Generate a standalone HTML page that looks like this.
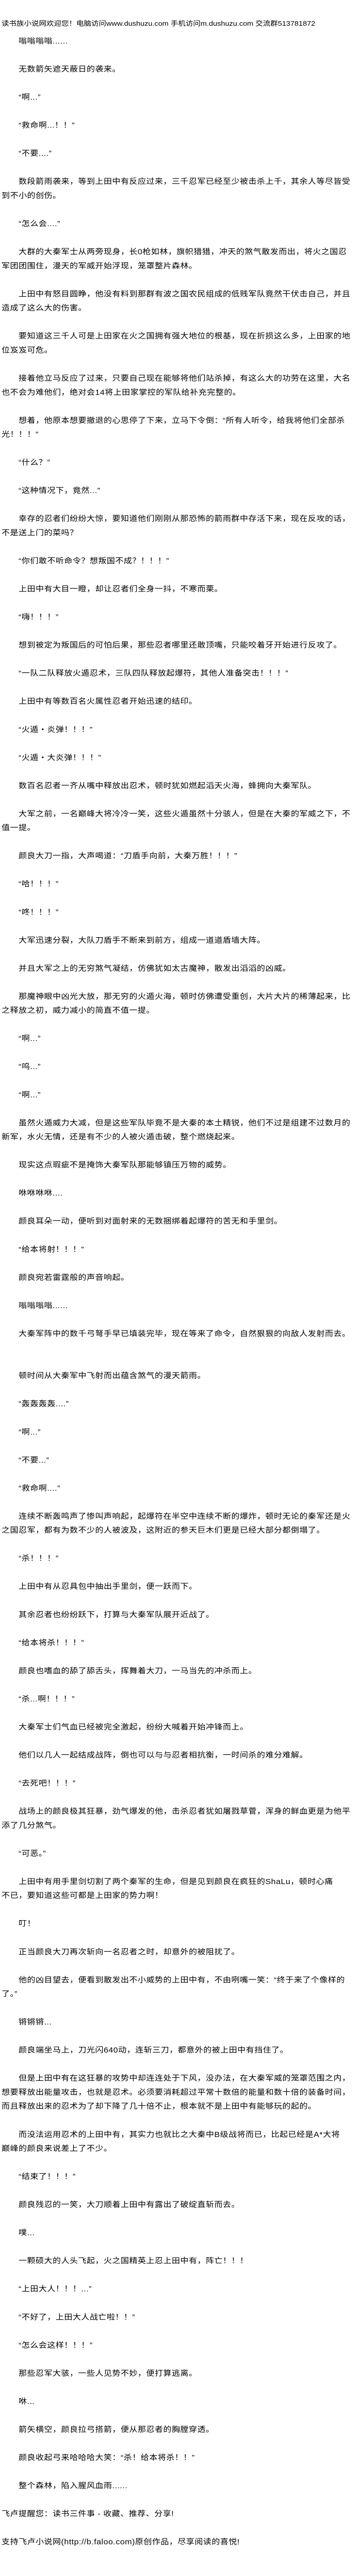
<!DOCTYPE html>
<html><head><meta charset="utf-8">
<style>
html{margin:0;padding:0;width:700px;height:5470px;overflow:hidden;background:#fff;}
body{margin:0;padding:0;width:700px;height:5470px;position:relative;overflow:hidden;color:#000;background:#fff;
font-family:"Liberation Sans","Noto Sans CJK SC",sans-serif;}
#w{position:absolute;left:0;top:0;width:700px;height:5470px;transform:scaleY(0.909);transform-origin:0 0;}
#w div{position:absolute;height:30px;line-height:30px;white-space:nowrap;overflow:hidden;font-size:16px;letter-spacing:0.5px;left:3px;max-width:697px;}
#w div.i{left:36px;max-width:664px;}
#hdr{top:36px;font-size:14.5px !important;letter-spacing:0 !important;}
</style></head><body><div id="w">
<div id="hdr">读书族小说网欢迎您！电脑访问www.dushuzu.com 手机访问m.dushuzu.com 交流群513781872</div>
<div class="i" style="top:74px">嗡嗡嗡嗡......</div>
<div class="i" style="top:134px">无数箭矢遮天蔽日的袭来。</div>
<div class="i" style="top:194px">“啊...”</div>
<div class="i" style="top:254px">“救命啊...！！”</div>
<div class="i" style="top:314px">“不要....”</div>
<div class="i" style="top:374px">数段箭雨袭来，等到上田中有反应过来，三千忍军已经至少被击杀上千，其余人等尽皆受</div>
<div style="top:404px">到不小的创伤。</div>
<div class="i" style="top:464px">“怎么会....”</div>
<div class="i" style="top:524px">大群的大秦军士从两旁现身，长0枪如林，旗帜猎猎，冲天的煞气散发而出，将火之国忍</div>
<div style="top:554px">军团团围住，漫天的军威开始浮现，笼罩整片森林。</div>
<div class="i" style="top:614px">上田中有怒目圆睁，他没有料到那群有波之国农民组成的低贱军队竟然干伏击自己，并且</div>
<div style="top:644px">造成了这么大的伤害。</div>
<div class="i" style="top:704px">要知道这三千人可是上田家在火之国拥有强大地位的根基，现在折损这么多，上田家的地</div>
<div style="top:734px">位岌岌可危。</div>
<div class="i" style="top:794px">接着他立马反应了过来，只要自己现在能够将他们站杀掉，有这么大的功劳在这里，大名</div>
<div style="top:824px">也不会为难他们，绝对会14将上田家掌控的军队给补充完整的。</div>
<div class="i" style="top:884px">想着，他原本想要撤退的心思停了下来，立马下令倒：“所有人听令，给我将他们全部杀</div>
<div style="top:914px">光！！！”</div>
<div class="i" style="top:974px">“什么？”</div>
<div class="i" style="top:1034px">“这种情况下，竟然...”</div>
<div class="i" style="top:1094px">幸存的忍者们纷纷大惊，要知道他们刚刚从那恐怖的箭雨群中存活下来，现在反攻的话，</div>
<div style="top:1124px">不是送上门的菜吗？</div>
<div class="i" style="top:1184px">“你们敢不听命令？想叛国不成？！！！”</div>
<div class="i" style="top:1244px">上田中有大目一瞪，却让忍者们全身一抖，不寒而栗。</div>
<div class="i" style="top:1304px">“嗨！！！”</div>
<div class="i" style="top:1364px">想到被定为叛国后的可怕后果，那些忍者哪里还敢顶嘴，只能咬着牙开始进行反攻了。</div>
<div class="i" style="top:1424px">“一队二队释放火遁忍术，三队四队释放起爆符，其他人准备突击！！！”</div>
<div class="i" style="top:1484px">上田中有等数百名火属性忍者开始迅速的结印。</div>
<div class="i" style="top:1544px">“火遁・炎弹！！！”</div>
<div class="i" style="top:1604px">“火遁・大炎弹！！！”</div>
<div class="i" style="top:1664px">数百名忍者一齐从嘴中释放出忍术，顿时犹如燃起滔天火海，蜂拥向大秦军队。</div>
<div class="i" style="top:1724px">大军之前，一名巅峰大将冷冷一笑，这些火遁虽然十分骇人，但是在大秦的军威之下，不</div>
<div style="top:1754px">值一提。</div>
<div class="i" style="top:1814px">颜良大刀一指，大声喝道：“刀盾手向前，大秦万胜！！！”</div>
<div class="i" style="top:1874px">“哈！！！”</div>
<div class="i" style="top:1934px">“咚！！！”</div>
<div class="i" style="top:1994px">大军迅速分裂，大队刀盾手不断来到前方，组成一道道盾墙大阵。</div>
<div class="i" style="top:2054px">并且大军之上的无穷煞气凝结，仿佛犹如太古魔神，散发出滔滔的凶威。</div>
<div class="i" style="top:2114px">那魔神眼中凶光大放，那无穷的火遁火海，顿时仿佛遭受重创，大片大片的稀薄起来，比</div>
<div style="top:2144px">之释放之初，威力减小的简直不值一提。</div>
<div class="i" style="top:2204px">“啊...”</div>
<div class="i" style="top:2264px">“呜...”</div>
<div class="i" style="top:2324px">“啊...”</div>
<div class="i" style="top:2384px">虽然火遁威力大减，但是这些军队毕竟不是大秦的本土精锐，他们不过是组建不过数月的</div>
<div style="top:2414px">新军，水火无情，还是有不少的人被火遁击破，整个燃烧起来。</div>
<div class="i" style="top:2474px">现实这点瑕疵不是掩饰大秦军队那能够镇压万物的威势。</div>
<div class="i" style="top:2534px">咻咻咻咻....</div>
<div class="i" style="top:2594px">颜良耳朵一动，便听到对面射来的无数捆绑着起爆符的苦无和手里剑。</div>
<div class="i" style="top:2654px">“给本将射！！！”</div>
<div class="i" style="top:2714px">颜良宛若雷霆般的声音响起。</div>
<div class="i" style="top:2774px">嗡嗡嗡嗡......</div>
<div class="i" style="top:2834px">大秦军阵中的数千弓弩手早已填装完毕，现在等来了命令，自然狠狠的向敌人发射而去。</div>
<div class="i" style="top:2924px">顿时间从大秦军中飞射而出蕴含煞气的漫天箭雨。</div>
<div class="i" style="top:2984px">“轰轰轰轰....”</div>
<div class="i" style="top:3044px">“啊...”</div>
<div class="i" style="top:3104px">“不要...”</div>
<div class="i" style="top:3164px">“救命啊....”</div>
<div class="i" style="top:3224px">连续不断轰鸣声了惨叫声响起，起爆符在半空中连续不断的爆炸，顿时无论的秦军还是火</div>
<div style="top:3254px">之国忍军，都有为数不少的人被波及，这附近的参天巨木们更是已经大部分都倒塌了。</div>
<div class="i" style="top:3314px">“杀！！！”</div>
<div class="i" style="top:3374px">上田中有从忍具包中抽出手里剑，便一跃而下。</div>
<div class="i" style="top:3434px">其余忍者也纷纷跃下，打算与大秦军队展开近战了。</div>
<div class="i" style="top:3494px">“给本将杀！！！”</div>
<div class="i" style="top:3554px">颜良也嗜血的舔了舔舌头，挥舞着大刀，一马当先的冲杀而上。</div>
<div class="i" style="top:3614px">“杀...啊！！！”</div>
<div class="i" style="top:3674px">大秦军士们气血已经被完全激起，纷纷大喊着开始冲锋而上。</div>
<div class="i" style="top:3734px">他们以几人一起结成战阵，倒也可以与与忍者相抗衡，一时间杀的难分难解。</div>
<div class="i" style="top:3794px">“去死吧！！！”</div>
<div class="i" style="top:3854px">战场上的颜良极其狂暴，劲气爆发的他，击杀忍者犹如屠戮草菅，浑身的鲜血更是为他平</div>
<div style="top:3884px">添了几分煞气。</div>
<div class="i" style="top:3944px">“可恶。”</div>
<div class="i" style="top:4004px">上田中有用手里剑切割了两个秦军的生命，但是见到颜良在疯狂的ShaLu，顿时心痛</div>
<div style="top:4034px">不已，要知道这些可都是上田家的势力啊！</div>
<div class="i" style="top:4094px">叮！</div>
<div class="i" style="top:4154px">正当颜良大刀再次斩向一名忍者之时，却意外的被阻扰了。</div>
<div class="i" style="top:4214px">他的凶目望去，便看到散发出不小威势的上田中有，不由咧嘴一笑：“终于来了个像样的</div>
<div style="top:4244px">了。”</div>
<div class="i" style="top:4304px">锵锵锵...</div>
<div class="i" style="top:4364px">颜良端坐马上，刀光闪640动，连斩三刀，都意外的被上田中有挡住了。</div>
<div class="i" style="top:4424px">但是上田中有在这狂暴的攻势中却连连处于下风，没办法，在大秦军威的笼罩范围之内，</div>
<div style="top:4454px">想要释放出能量攻击，也就是忍术。必须要消耗超过平常十数倍的能量和数十倍的装备时间，</div>
<div style="top:4484px">而且释放出来的忍术为了却下降了几十倍不止，根本就不是上田中有能够玩的起的。</div>
<div class="i" style="top:4544px">而没法运用忍术的上田中有，其实力也就比之大秦中B级战将而已，比起已经是A*大将</div>
<div style="top:4574px">巅峰的颜良来说差上了不少。</div>
<div class="i" style="top:4634px">“结束了！！！”</div>
<div class="i" style="top:4694px">颜良残忍的一笑，大刀顺着上田中有露出了破绽直斩而去。</div>
<div class="i" style="top:4754px">噗...</div>
<div class="i" style="top:4814px">一颗硕大的人头飞起，火之国精英上忍上田中有，阵亡！！！</div>
<div class="i" style="top:4874px">“上田大人！！！...”</div>
<div class="i" style="top:4934px">“不好了，上田大人战亡啦！！”</div>
<div class="i" style="top:4994px">“怎么会这样！！！”</div>
<div class="i" style="top:5054px">那些忍军大骇，一些人见势不妙，便打算逃离。</div>
<div class="i" style="top:5114px">咻...</div>
<div class="i" style="top:5174px">箭矢横空，颜良拉弓搭箭，便从那忍者的胸膛穿透。</div>
<div class="i" style="top:5234px">颜良收起弓来哈哈哈大笑：“杀！给本将杀！！”</div>
<div class="i" style="top:5294px">整个森林，陷入腥风血雨......</div>
<div style="top:5354px">飞卢提醒您：读书三件事 - 收藏、推荐、分享!</div>
<div style="top:5414px">支持飞卢小说网(http://b.faloo.com)原创作品，尽享阅读的喜悦!</div>
</div></body></html>
